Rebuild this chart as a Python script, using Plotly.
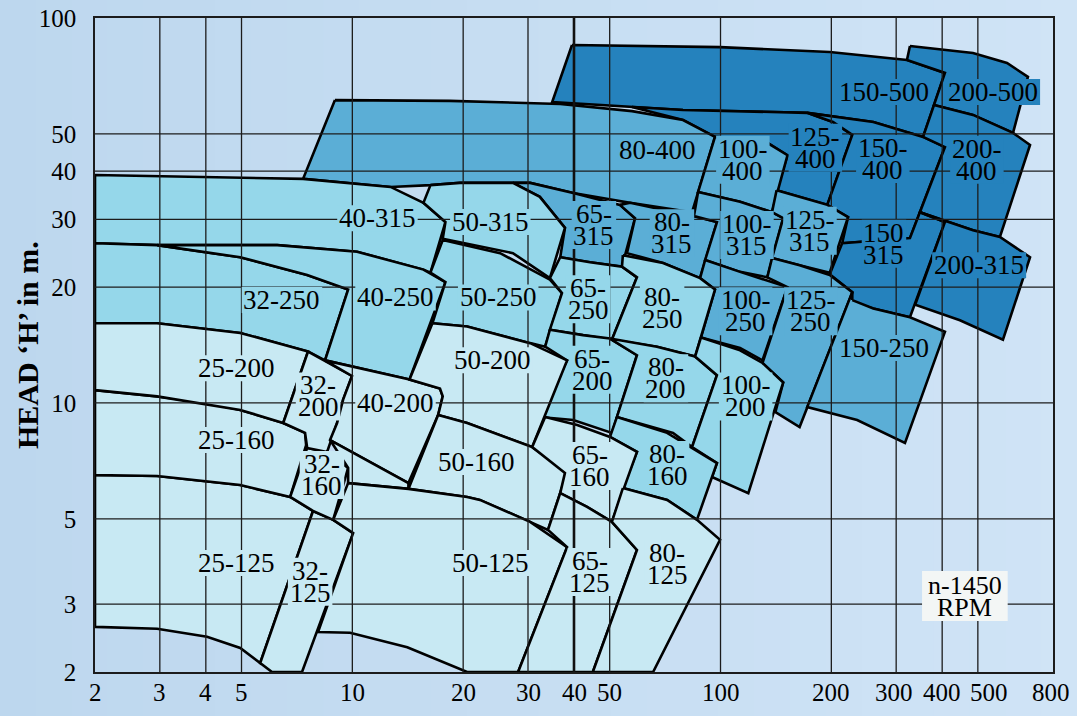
import numpy as np
import plotly.graph_objects as go

# ---------------- axis ticks ----------------
X_TICKS = [2, 3, 4, 5, 10, 20, 30, 40, 50, 100, 200, 300, 400, 500, 800]
X_TICK_TEXT = ["2", "3", "4", "5", "10", "20", "30", "40", "50", "100", "200", "300", "400", "500", "800"]
Y_TICKS = [2, 3, 5, 10, 20, 30, 40, 50, 100]
Y_TICK_TEXT = ["2", "3", "5", "10", "20", "30", "40", "50", "100"]

# ---------------- pump regions (Q in m3/h, H in m) ----------------
# dark
Q_150_500 = [39.5, 99.7, 198, 321, 407, 355, 260, 172, 79.1, 34.9]
H_150_500 = [85.1, 84.0, 81.6, 77.8, 72.0, 49.1, 53.7, 56.7, 57.7, 60.5]
Q_200_500 = [327, 485, 600, 684, 623, 485, 380, 407, 321]
H_200_500 = [84.6, 81.1, 76.4, 70.3, 50.3, 56.0, 59.4, 72.0, 77.8]
Q_125_400 = [57.5, 79.1, 172, 202, 228, 195, 142, 152, 134, 117, 96.6, 79.1]
H_125_400 = [58.7, 57.7, 56.7, 53.7, 49.7, 32.7, 35.7, 44.0, 47.4, 48.5, 49.1, 54.3]
Q_150_400 = [172, 260, 355, 407, 327, 242, 214, 222, 195, 228, 202]
H_150_400 = [56.7, 53.7, 49.1, 46.2, 26.8, 26.2, 26.0, 30.4, 32.7, 49.7, 53.7]
Q_200_400 = [380, 485, 623, 693, 574, 485, 348, 407, 355]
H_200_400 = [59.4, 56.0, 50.3, 46.8, 27.0, 28.1, 31.3, 46.2, 49.1]
Q_150_315 = [214, 242, 327, 348, 407, 327, 260, 225, 228, 198]
H_150_315 = [26.0, 26.2, 26.8, 31.3, 29.5, 16.7, 17.6, 18.3, 19.4, 21.6]
Q_200_315 = [348, 485, 574, 693, 585, 447, 338, 407]
H_200_315 = [31.3, 28.1, 27.0, 23.9, 14.6, 16.4, 18.0, 29.5]

# medium
Q_80_400 = [8.97, 18.4, 36.7, 57.5, 79.1, 96.6, 83.7, 56.8, 39.8, 30.4, 19.6, 16.3, 12.7, 7.35]
H_80_400 = [61.2, 60.9, 59.8, 57.3, 54.3, 49.1, 31.3, 33.1, 35.1, 37.3, 37.3, 36.8, 36.4, 38.2]
Q_65_315 = [27.3, 30.4, 39.8, 53.3, 58.6, 54.0, 44.2, 36.7, 37.8, 32.3]
H_65_315 = [37.3, 37.3, 35.1, 32.7, 30.2, 22.6, 23.2, 23.9, 28.5, 34.3]
Q_80_315 = [53.3, 56.8, 86.3, 97.8, 88.0, 69.8, 55.7, 58.6]
H_80_315 = [32.7, 33.1, 30.4, 29.5, 21.1, 23.1, 24.5, 30.2]
Q_100_400 = [96.6, 117, 134, 152, 138, 113, 86.9]
H_100_400 = [49.1, 48.5, 47.4, 44.0, 31.3, 33.3, 35.3]
Q_100_315 = [86.9, 113, 138, 148, 134, 113, 90.8, 97.8, 84.7]
H_100_315 = [35.3, 33.3, 31.3, 30.2, 21.2, 21.9, 23.5, 29.5, 30.6]
Q_125_315 = [142, 195, 222, 198, 164, 138, 148, 138]
H_125_315 = [35.7, 32.7, 30.4, 21.8, 22.8, 23.8, 30.2, 31.3]
Q_100_250 = [90.8, 113, 152, 130, 113, 88.5, 96.6, 88.0]
H_100_250 = [23.5, 21.9, 20.0, 12.9, 13.9, 14.8, 19.7, 21.1]
Q_125_250 = [138, 164, 198, 228, 164, 141, 148, 130, 152, 134]
H_125_250 = [23.8, 22.8, 21.5, 19.4, 8.66, 9.47, 11.3, 12.7, 20.0, 21.2]
Q_150_250 = [228, 260, 327, 407, 317, 235, 172, 228]
H_150_250 = [18.5, 17.6, 16.7, 15.3, 7.87, 9.03, 9.76, 19.4]

# light cyan
Q_32_250 = [2.0, 2.95, 4.96, 7.54, 9.74, 8.43, 7.58, 4.96, 2.95, 2.0]
H_32_250 = [26.0, 25.7, 23.9, 21.5, 19.7, 12.9, 13.6, 15.2, 16.1, 16.1]
Q_40_250 = [2.95, 6.25, 10.3, 15.6, 17.9, 14.3, 8.43, 9.74, 7.54, 4.96]
H_40_250 = [25.7, 25.7, 24.7, 22.2, 20.6, 11.5, 12.9, 19.7, 21.5, 23.9]
Q_40_315 = [2.0, 7.35, 12.7, 15.6, 17.9, 16.3, 15.6, 10.3, 6.25, 2.95, 2.0]
H_40_315 = [39.1, 38.2, 36.4, 33.1, 29.5, 21.8, 22.2, 24.7, 25.7, 25.7, 26.0]
Q_50_315 = [16.3, 19.6, 27.3, 32.3, 37.8, 34.4, 27.3, 17.6, 17.9, 15.6]
H_50_315 = [36.8, 37.3, 37.3, 34.3, 28.5, 21.1, 24.5, 26.7, 29.5, 33.1]
Q_50_250 = [17.6, 25.2, 34.4, 37.1, 33.4, 30.4, 20.5, 16.5, 17.9, 16.3]
H_50_250 = [26.5, 24.5, 20.9, 19.3, 14.0, 14.3, 15.8, 16.1, 20.6, 21.8]
Q_65_250 = [36.7, 44.2, 54.0, 59.3, 50.7, 42.3, 34.4, 37.1, 34.4]
H_65_250 = [23.9, 23.2, 22.6, 21.2, 14.6, 15.0, 15.5, 19.3, 21.1]
Q_80_250 = [54.3, 69.8, 88.0, 96.6, 85.3, 67.2, 50.7, 59.3, 54.0]
H_80_250 = [24.2, 23.1, 21.1, 19.7, 13.2, 14.0, 14.6, 21.2, 22.6]
Q_65_200 = [34.4, 42.3, 50.1, 59.3, 50.7, 39.8, 32.3, 38.3, 33.4]
H_65_200 = [15.5, 15.0, 14.7, 13.3, 8.36, 9.03, 9.19, 12.9, 14.0]
Q_80_200 = [50.1, 67.2, 85.3, 97.8, 83.7, 74.3, 52.3, 59.3]
H_80_200 = [14.7, 14.0, 13.2, 11.8, 7.68, 8.36, 9.19, 13.3]
Q_100_200 = [88.5, 113, 130, 148, 119, 94.8, 97.8, 83.7, 97.8, 85.3]
H_100_200 = [14.8, 13.7, 12.7, 11.3, 5.83, 6.42, 6.98, 7.68, 11.8, 13.2]
Q_80_160 = [52.3, 71.6, 97.8, 86.3, 71.6, 54.3, 59.3, 50.1]
H_80_160 = [9.19, 8.36, 6.98, 4.97, 5.60, 6.01, 7.46, 8.16]

# lightest
Q_25_125 = [2.0, 2.95, 4.96, 6.78, 7.82, 5.62, 4.96, 4.03, 2.95, 2.0]
H_25_125 = [6.50, 6.46, 6.12, 5.70, 5.24, 2.11, 2.31, 2.47, 2.59, 2.62]
Q_32_125 = [7.82, 8.87, 10.05, 7.30, 6.05, 5.62]
H_32_125 = [5.24, 4.97, 4.59, 2.0, 2.0, 2.11]
Q_25_160 = [2.0, 2.95, 4.03, 4.96, 6.49, 7.44, 7.49, 6.78, 4.96, 2.95, 2.0]
H_25_160 = [10.8, 10.4, 10.0, 9.59, 8.87, 8.36, 7.77, 5.70, 6.12, 6.46, 6.50]
Q_32_160 = [7.54, 8.54, 9.74, 8.87, 7.82, 6.78]
H_32_160 = [7.64, 7.46, 6.78, 4.97, 5.24, 5.70]
Q_25_200 = [2.0, 2.95, 4.96, 7.58, 6.49, 4.96, 2.95, 2.0]
H_25_200 = [16.1, 16.1, 15.2, 13.6, 8.87, 9.59, 10.4, 10.8]
Q_32_200 = [7.58, 9.98, 9.44, 9.09, 8.54, 7.54, 7.44, 6.49]
H_32_200 = [13.6, 11.75, 10.2, 8.87, 7.46, 7.64, 8.36, 8.87]
Q_40_200 = [8.43, 14.3, 17.3, 17.6, 17.1, 14.2, 8.70, 9.09, 9.44, 9.98]
H_40_200 = [12.9, 11.5, 10.9, 10.4, 9.30, 6.19, 8.01, 8.87, 10.2, 11.75]
Q_40_160 = [8.70, 14.2, 14.2, 9.74, 9.74]
H_40_160 = [8.01, 6.19, 5.98, 6.19, 6.78]
Q_50_200 = [16.5, 20.5, 30.4, 38.3, 30.8, 20.5, 17.1, 17.6, 17.3, 14.3]
H_50_200 = [16.1, 15.8, 14.3, 12.9, 7.68, 8.87, 9.30, 10.4, 10.9, 11.5]
Q_50_160 = [17.1, 20.5, 30.8, 38.3, 34.0, 30.4, 22.2, 20.5, 14.2]
H_50_160 = [9.30, 8.87, 7.68, 6.62, 4.68, 4.91, 5.60, 5.70, 5.98]
Q_50_125 = [9.74, 14.2, 20.5, 22.2, 30.4, 38.3, 28.2, 20.5, 14.1, 9.86, 8.07, 10.05, 8.87]
H_50_125 = [6.19, 5.98, 5.70, 5.60, 4.91, 4.22, 2.0, 2.0, 2.32, 2.53, 2.54, 4.59, 4.97]
Q_65_160 = [33.4, 40.8, 50.1, 59.3, 50.7, 43.4, 36.7, 37.8, 30.8]
H_65_160 = [9.19, 8.76, 8.16, 7.46, 4.91, 5.37, 5.83, 6.58, 7.68]
Q_65_125 = [36.7, 43.4, 50.7, 59.3, 45.0, 28.2, 38.3, 34.0]
H_65_125 = [5.83, 5.37, 4.91, 4.15, 2.0, 2.0, 4.22, 4.68]
Q_80_125 = [54.3, 71.6, 86.3, 99.7, 65.6, 45.0, 59.3, 50.7]
H_80_125 = [6.01, 5.60, 4.97, 4.41, 2.0, 2.0, 4.15, 4.91]

REGIONS = [
    (Q_150_500, H_150_500, "dark"), (Q_200_500, H_200_500, "dark"),
    (Q_125_400, H_125_400, "dark"), (Q_150_400, H_150_400, "dark"),
    (Q_200_400, H_200_400, "dark"), (Q_150_315, H_150_315, "dark"),
    (Q_200_315, H_200_315, "dark"),
    (Q_80_400, H_80_400, "med"), (Q_65_315, H_65_315, "med"),
    (Q_80_315, H_80_315, "med"), (Q_100_400, H_100_400, "med"),
    (Q_100_315, H_100_315, "med"), (Q_125_315, H_125_315, "med"),
    (Q_100_250, H_100_250, "med"), (Q_125_250, H_125_250, "med"),
    (Q_150_250, H_150_250, "med"),
    (Q_40_315, H_40_315, "cyan"), (Q_32_250, H_32_250, "cyan"),
    (Q_40_250, H_40_250, "cyan"), (Q_50_315, H_50_315, "cyan"),
    (Q_50_250, H_50_250, "cyan"), (Q_65_250, H_65_250, "cyan"),
    (Q_80_250, H_80_250, "cyan"), (Q_65_200, H_65_200, "cyan"),
    (Q_80_200, H_80_200, "cyan"), (Q_100_200, H_100_200, "cyan"),
    (Q_80_160, H_80_160, "cyan"),
    (Q_25_125, H_25_125, "light"), (Q_32_125, H_32_125, "light"),
    (Q_25_160, H_25_160, "light"), (Q_32_160, H_32_160, "light"),
    (Q_25_200, H_25_200, "light"), (Q_32_200, H_32_200, "light"),
    (Q_40_200, H_40_200, "light"), (Q_40_160, H_40_160, "light"),
    (Q_50_200, H_50_200, "light"), (Q_50_160, H_50_160, "light"),
    (Q_50_125, H_50_125, "light"), (Q_65_160, H_65_160, "light"),
    (Q_65_125, H_65_125, "light"), (Q_80_125, H_80_125, "light"),
]

# ---------------- labels ----------------
LABEL_TEXT = ["150-500", "200-500", "80-400", "100-\n400", "125-\n400", "150-\n400", "200-\n400",
              "65-\n315", "80-\n315", "100-\n315", "125-\n315", "150\n315", "200-315",
              "150-250", "125-\n250", "100-\n250", "80-\n250", "65-\n250", "50-250", "40-250",
              "32-250", "40-315", "50-315", "25-200", "32-\n200", "40-200", "50-200",
              "65-\n200", "80-\n200", "100-\n200", "25-160", "32-\n160", "50-160", "65-\n160",
              "80-\n160", "25-125", "32-\n125", "50-125", "65-\n125", "80-\n125"]
LABEL_Q = [278, 550, 67.6, 115, 181, 276, 497,
           45.3, 73.8, 118, 175, 278, 504,
           278, 176, 117, 69.4, 43.7, 24.9, 13.1,
           6.44, 11.7, 23.7, 4.86, 8.07, 13.1, 24.0,
           44.8, 71.1, 117, 4.86, 8.27, 21.7, 44.2,
           71.6, 4.86, 7.68, 23.8, 44.2, 71.6]
LABEL_H = [64.2, 64.2, 45.4, 42.8, 46.0, 43.0, 42.8,
           29.0, 27.6, 27.3, 28.0, 25.9, 22.8,
           13.9, 17.3, 17.3, 17.6, 18.6, 18.8, 18.8,
           18.5, 30.2, 29.5, 12.3, 10.4, 10.0, 12.9,
           12.2, 11.6, 10.4, 8.01, 6.50, 7.02, 6.86,
           6.90, 3.84, 3.43, 3.84, 3.64, 3.82]
LABEL_TONE = ["dark", "dark", "med", "med", "dark", "dark", "dark",
              "med", "med", "med", "med", "dark", "dark",
              "med", "med", "med", "cyan", "cyan", "cyan", "cyan",
              "cyan", "cyan", "cyan", "light", "light", "light", "light",
              "cyan", "cyan", "cyan", "light", "light", "light", "light",
              "cyan", "light", "light", "light", "light", "light"]
NOTE_TEXT = "n-1450\nRPM"
NOTE_Q = 461
NOTE_H = 3.15

COLORS = {"light": "#c8e9f3", "cyan": "#95d7ea", "med": "#5baed6", "dark": "#2582bd"}
NOTE_BG = "#f3f6f5"
FONT = "Liberation Serif, Times New Roman, serif"
LABEL_SIZE = 27
LINE_STEP = 22
BG_LEFT = (189, 215, 238)
BG_RIGHT = (208, 228, 246)
GLYPH_EM = {"-": 0.333, " ": 0.25, "n": 0.5, "R": 0.667, "P": 0.556, "M": 0.889}

# layout geometry
W, H = 1077, 716
M_L, M_R, M_T, M_B = 95, 24, 18, 44
X_RANGE = [np.log10(X_TICKS[0]), np.log10(X_TICKS[-1])]
Y_RANGE = [np.log10(Y_TICKS[0]), np.log10(Y_TICKS[-1])]
PX_PER_DEC_X = (W - M_L - M_R) / (X_RANGE[1] - X_RANGE[0])
PX_PER_DEC_Y = (H - M_T - M_B) / (Y_RANGE[1] - Y_RANGE[0])


def text_width(s, size):
    return sum(GLYPH_EM.get(ch, 0.5) for ch in s) * size


fig = go.Figure()

for q, h, tone in REGIONS:
    fig.add_trace(go.Scatter(
        x=q + [q[0]], y=h + [h[0]], mode="lines", fill="toself",
        fillcolor=COLORS[tone], line=dict(color="black", width=2.6),
        hoverinfo="skip", showlegend=False))

# grid lines drawn above the regions
gx, gy = [], []
for v in X_TICKS:
    if v in (2, 40, 800):
        continue
    gx += [v, v, None]
    gy += [Y_TICKS[0], Y_TICKS[-1], None]
for v in Y_TICKS[1:-1]:
    gx += [X_TICKS[0], X_TICKS[-1], None]
    gy += [v, v, None]
fig.add_trace(go.Scatter(x=gx, y=gy, mode="lines", line=dict(color="#1c1c1c", width=1.3),
                         hoverinfo="skip", showlegend=False))
fig.add_trace(go.Scatter(x=[40, 40], y=[Y_TICKS[0], Y_TICKS[-1]], mode="lines",
                         line=dict(color="#111111", width=2.6), hoverinfo="skip", showlegend=False))

shapes = []
# soft left-to-right background gradient
NB = 30
x_lo, x_hi = -M_L / (W - M_L - M_R), 1 + M_R / (W - M_L - M_R)
for k in range(NB):
    t = (k + 0.5) / NB
    c = tuple(int(round(a + (b - a) * t)) for a, b in zip(BG_LEFT, BG_RIGHT))
    shapes.append(dict(type="rect", xref="paper", yref="paper",
                       x0=x_lo + (x_hi - x_lo) * k / NB, x1=x_lo + (x_hi - x_lo) * (k + 1) / NB + 0.002,
                       y0=-0.08, y1=1.04, fillcolor="rgb(%d,%d,%d)" % c,
                       line=dict(width=0), layer="below"))

ann = []


def add_label(txt, q, h, bg, size, pad_w=4, line_h=26):
    lines = txt.split("\n")
    n = len(lines)
    w = max(text_width(ln, size) for ln in lines) + pad_w
    hh = LINE_STEP * (n - 1) + line_h
    fx = 10 ** (w / 2 / PX_PER_DEC_X)
    fy = 10 ** (hh / 2 / PX_PER_DEC_Y)
    shapes.append(dict(type="rect", xref="x", yref="y",
                       x0=q / fx, x1=q * fx, y0=h / fy, y1=h * fy,
                       fillcolor=bg, line=dict(width=0), layer="above"))
    for i, ln in enumerate(lines):
        shift = (n - 1) * LINE_STEP / 2 - i * LINE_STEP
        a = dict(x=np.log10(q), y=np.log10(h), xref="x", yref="y", text=ln,
                 showarrow=False, yshift=shift, borderpad=0,
                 font=dict(family=FONT, size=size, color="black"))
        if n > 1:
            a["height"] = LINE_STEP
            a["valign"] = "middle"
        ann.append(a)


for txt, q, h, tone in zip(LABEL_TEXT, LABEL_Q, LABEL_H, LABEL_TONE):
    add_label(txt, q, h, COLORS[tone], LABEL_SIZE)
add_label(NOTE_TEXT, NOTE_Q, NOTE_H, NOTE_BG, 26, pad_w=12, line_h=28)

# x tick labels
X_SHIFT = {300: -2, 500: 11, 800: -2}
for v, t in zip(X_TICKS, X_TICK_TEXT):
    ann.append(dict(x=np.log10(v), y=0, xref="x", yref="paper", text=t, showarrow=False,
                    yanchor="top", yshift=-5, xshift=X_SHIFT.get(v, 0),
                    font=dict(family=FONT, size=25, color="black")))

# y axis title
ann.append(dict(x=-0.071, y=0.5, xref="paper", yref="paper", text="<b>HEAD ‘H’ in m.</b>",
                textangle=-90, showarrow=False, xanchor="center", yanchor="middle",
                font=dict(family=FONT, size=30, color="black")))

fig.update_layout(
    width=W, height=H,
    margin=dict(l=M_L, r=M_R, t=M_T, b=M_B, autoexpand=False),
    paper_bgcolor="rgb(%d,%d,%d)" % BG_LEFT,
    plot_bgcolor="rgba(0,0,0,0)",
    showlegend=False,
    annotations=ann,
    shapes=shapes,
    xaxis=dict(type="log", range=X_RANGE, showgrid=False, zeroline=False,
               showline=True, mirror=True, linecolor="#1c1c1c", linewidth=1.5, automargin=False,
               tickvals=X_TICKS, showticklabels=False, ticks=""),
    yaxis=dict(type="log", range=Y_RANGE, showgrid=False, zeroline=False,
               showline=True, mirror=True, linecolor="#1c1c1c", linewidth=1.5, automargin=False,
               tickvals=Y_TICKS, ticktext=Y_TICK_TEXT, ticks="", ticklabelstandoff=12,
               tickfont=dict(family=FONT, size=25, color="black")),
)

fig.write_html("out.html", config={"displayModeBar": False},
               post_script="document.body.style.margin='0px';document.body.style.overflow='hidden';")
